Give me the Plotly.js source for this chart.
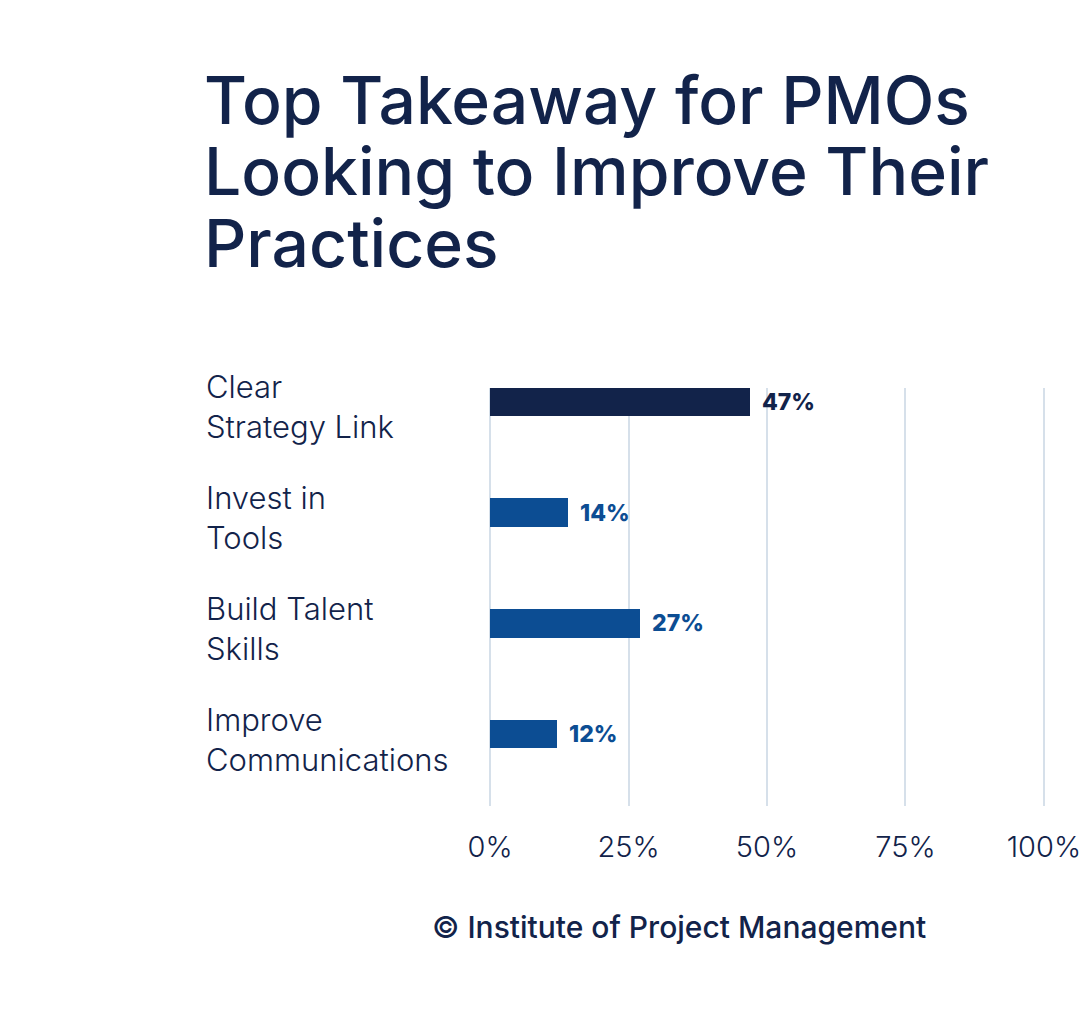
<!DOCTYPE html>
<html>
<head>
<meta charset="utf-8">
<script src="https://cdn.plot.ly/plotly-3.0.1.min.js"></script>
<style>
  html, body { margin: 0; padding: 0; background: #ffffff; }
  #chart { width: 1080px; height: 1011px; }
</style>
</head>
<body>
<div id="chart"></div>
<script>
const categories = ['Clear<br>Strategy Link', 'Invest in<br>Tools', 'Build Talent<br>Skills', 'Improve<br>Communications'];
const values = [47, 14, 27, 12];
const barColors = ['#12234a', '#0c4d93', '#0c4d93', '#0c4d93'];
const tickVals = [0, 25, 50, 75, 100];
const tickText = ['0%', '25%', '50%', '75%', '100%'];
const titleLines = ['Top Takeaway for PMOs', 'Looking to Improve Their', 'Practices'];
const source = '© Institute of Project Management';

const navy = '#12234a';
const idx = categories.map((c, i) => i);

const data = [{
    type: 'bar',
    orientation: 'h',
    x: values,
    y: idx,
    width: 0.26,
    marker: { color: barColors },
    hoverinfo: 'skip',
}];

// pixel helpers for the paper-positioned texts (plot area 490..1044 x, 388..806 y)
const px = v => (v - 490) / 554;
const py = v => (806 - v) / 418;

const annotations = [];
// category labels, left aligned
categories.forEach((c, i) => {
    annotations.push({
        xref: 'paper', yref: 'y', x: px(206), y: i,
        xanchor: 'left', yanchor: 'middle', align: 'left', yshift: -5,
        text: c, showarrow: false,
        font: { family: 'Inter, Roboto, sans-serif', size: 31, color: navy, weight: 300 },
    });
});
// value labels
values.forEach((v, i) => {
    annotations.push({
        xref: 'x', yref: 'y', x: v, y: i,
        xanchor: 'left', yanchor: 'middle', xshift: 10,
        text: v + '%', showarrow: false,
        font: { family: 'Inter, Roboto, sans-serif', size: 23, color: barColors[i], weight: 800 },
    });
});
// title, one box per line so the lines sit close together
titleLines.forEach((t, i) => {
    annotations.push({
        xref: 'paper', yref: 'paper', x: px(204), y: py(100 + i * 71.5),
        xanchor: 'left', yanchor: 'middle', align: 'left',
        text: t, showarrow: false,
        font: { family: 'Inter, Roboto, sans-serif', size: 66, color: navy, weight: 500 },
    });
});
// source
annotations.push({
    xref: 'paper', yref: 'paper', x: px(679), y: py(927),
    xanchor: 'center', yanchor: 'middle',
    text: source, showarrow: false,
    font: { family: 'Inter, Roboto, sans-serif', size: 30, color: navy, weight: 500 },
});

const layout = {
    width: 1080,
    height: 1011,
    margin: { t: 388, l: 489, r: 35, b: 205 },
    paper_bgcolor: '#ffffff',
    plot_bgcolor: '#ffffff',
    showlegend: false,
    bargap: 0,
    xaxis: {
        range: [-0.2, 100.2],
        tickvals: tickVals,
        ticktext: tickText,
        showgrid: true,
        gridcolor: '#d6e0ea',
        gridwidth: 2,
        zeroline: false,
        showline: false,
        ticks: '',
        ticklabelstandoff: 21,
        ticklabeloverflow: 'allow',
        tickfont: { family: 'Inter, Roboto, sans-serif', size: 29, color: navy, weight: 300 },
        fixedrange: true,
    },
    yaxis: {
        range: [3.65, -0.126],
        showgrid: false,
        zeroline: false,
        showline: false,
        showticklabels: false,
        fixedrange: true,
    },
    annotations: annotations,
};

Plotly.newPlot('chart', data, layout, { displayModeBar: false, staticPlot: true });
</script>
</body>
</html>
